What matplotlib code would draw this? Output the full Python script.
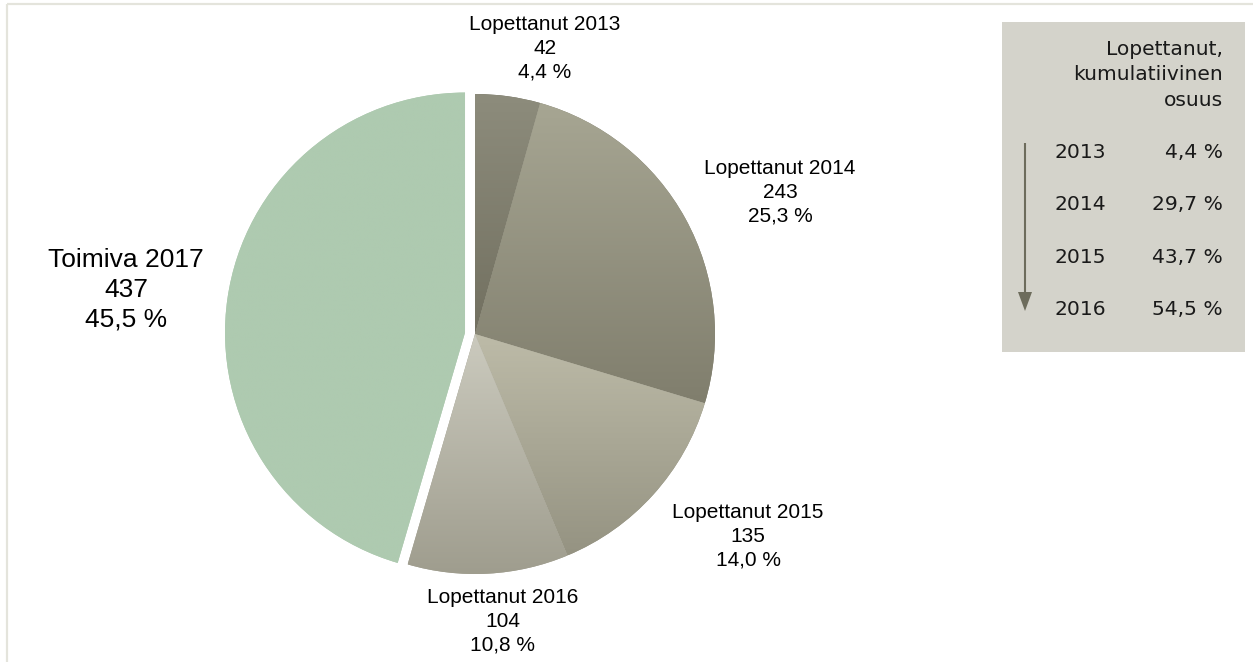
import numpy as np
import matplotlib
matplotlib.use("Agg")
import matplotlib.pyplot as plt
from matplotlib.patches import Polygon, Rectangle
from matplotlib.colors import LinearSegmentedColormap

# ---- data ----
categories = ["Lopettanut 2013", "Lopettanut 2014", "Lopettanut 2015",
              "Lopettanut 2016", "Toimiva 2017"]
values = [42, 243, 135, 104, 437]
cum_years = ["2013", "2014", "2015", "2016"]
legend_title = ["Lopettanut,", "kumulatiivinen", "osuus"]

# ---- styles ----
top_colors = ["#8d8c7c", "#a7a693", "#bdbba8", "#cbcabe", "#aecab0"]
bot_colors = ["#727060", "#807e6d", "#959382", "#9f9d8e", "#aecab0"]
explode = [0, 0, 0, 0, 0.042]

W, H = 1253, 662
fig = plt.figure(figsize=(W / 100, H / 100), dpi=100)
fig.patch.set_facecolor("white")

# background / annotation axes in pixel coordinates (y downward)
bg = fig.add_axes([0, 0, 1, 1])
bg.set_xlim(0, W)
bg.set_ylim(H, 0)
bg.axis("off")

# border lines
bg.plot([7, W], [4, 4], color="#e4e4dc", lw=1.6, solid_capstyle="butt")
bg.plot([7, 7], [4, H], color="#e4e4dc", lw=1.6, solid_capstyle="butt")

# ---- pie ----
cx, cy, R = 475, 334, 240
half = 300
pax = fig.add_axes([(cx - half) / W, (H - cy - half) / H, 2 * half / W, 2 * half / H])
wedges, _ = pax.pie(values, startangle=90, counterclock=False, explode=explode,
                    radius=1.0, colors=bot_colors,
                    wedgeprops=dict(linewidth=0))
lim = half / R
pax.set_xlim(-lim, lim)
pax.set_ylim(-lim, lim)
pax.set_aspect("equal")
pax.axis("off")
pax.patch.set_visible(False)

# vertical gradient fill for each wedge
for w, ct, cb in zip(wedges, top_colors, bot_colors):
    t = np.radians(np.linspace(w.theta1, w.theta2, 200))
    xc, yc = w.center
    ys = np.concatenate([[yc], yc + w.r * np.sin(t)])
    xs = np.concatenate([[xc], xc + w.r * np.cos(t)])
    cmap = LinearSegmentedColormap.from_list("g", [cb, ct])
    grad = np.linspace(0, 1, 256).reshape(-1, 1)
    im = pax.imshow(grad, cmap=cmap, origin="lower", aspect="auto",
                    extent=[xs.min(), xs.max(), ys.min(), ys.max()],
                    interpolation="bilinear", zorder=w.get_zorder() + 0.1)
    im.set_clip_path(w)
pax.set_xlim(-lim, lim)
pax.set_ylim(-lim, lim)

# ---- slice labels ----
total = sum(values)
label_font = ["Liberation Sans", "DejaVu Sans"]
# (center x, first baseline, line step, font size)
label_layout = [
    (545, 30, 24, 15),
    (780, 174, 23.7, 15),
    (748, 518, 24, 15),
    (503, 603, 23.7, 15),
    (126, 267, 30, 19),
]
for cat, v, (lx, ly, step, fs) in zip(categories, values, label_layout):
    pct = f"{100 * v / total:.1f}".replace(".", ",") + " %"
    for i, line in enumerate([cat, str(v), pct]):
        bg.text(lx, ly + i * step, line, ha="center", va="baseline",
                fontsize=fs, family=label_font, color="#000000")

# ---- cumulative share box ----
bg.add_patch(Rectangle((1002, 22), 243, 330, facecolor="#d4d3cb",
                       edgecolor="none", zorder=1))
leg_font = ["DejaVu Sans"]
for i, line in enumerate(legend_title):
    bg.text(1223, 55 + i * 25.5, line, ha="right", va="baseline",
            fontsize=14.6, family=leg_font, color="#1a1a1a", zorder=3)

cum = np.cumsum(values[:4]) / total * 100
row_base = [158, 210, 263, 315]
for yr, c, yb in zip(cum_years, cum, row_base):
    bg.text(1054, yb, yr, ha="left", va="baseline", fontsize=14.6,
            family=leg_font, color="#1a1a1a", zorder=3)
    bg.text(1223, yb, f"{c:.1f}".replace(".", ",") + " %", ha="right",
            va="baseline", fontsize=14.6, family=leg_font, color="#1a1a1a",
            zorder=3)

# arrow
arrow_col = "#6d6c5c"
bg.plot([1025, 1025], [143, 296], color=arrow_col, lw=1.5, zorder=3,
        solid_capstyle="butt")
bg.add_patch(Polygon([[1018, 292], [1032, 292], [1025, 311]], closed=True,
                     facecolor=arrow_col, edgecolor="none", zorder=3))

fig.savefig("out.png", dpi=100)
